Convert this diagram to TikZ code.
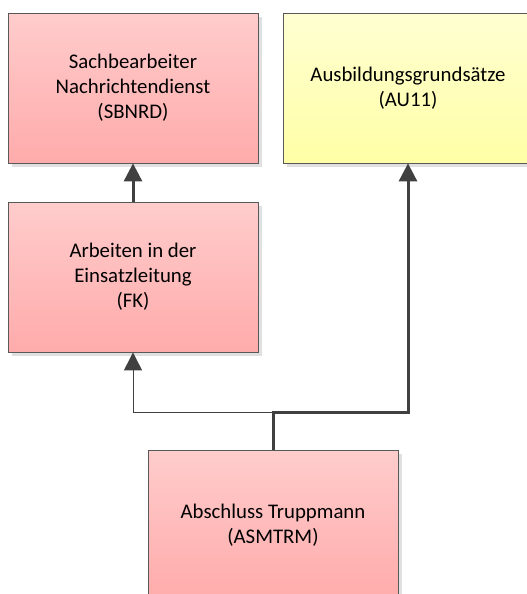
\documentclass[tikz,border=0pt]{standalone}
\usepackage{fontspec}
\setmainfont{Carlito}
\usetikzlibrary{arrows.meta, shadows}

\definecolor{boxline}{HTML}{595959}
\definecolor{linkgray}{HTML}{404040}
\definecolor{redtop}{HTML}{FFCCCC}
\definecolor{redbot}{HTML}{FFABAB}
\definecolor{yeltop}{HTML}{FFFFD2}
\definecolor{yelbot}{HTML}{FFFFA6}

\begin{document}
\begin{tikzpicture}[x=0.75pt, y=-0.75pt,
        task/.style={draw=boxline, line width=0.6pt, minimum width=187.5pt, minimum height=112.5pt,
            align=center, font=\fontsize{15.6}{18.75}\selectfont,
            drop shadow={shadow xshift=3pt, shadow yshift=-3pt, fill=black!12, opacity=1}},
        redtask/.style={task, top color=redtop, bottom color=redbot},
        yellowtask/.style={task, top color=yeltop, bottom color=yelbot},
        link/.style={draw=linkgray, -{Triangle[length=13.5pt, width=13.5pt]}}]
        \useasboundingbox (0, 0) rectangle (527, 594);
        \node[redtask] at (133, 88) (sbnrd) {Sachbearbeiter\\Nachrichtendienst\\(SBNRD)};
        \node[yellowtask] at (408, 88) (au) {Ausbildungsgrundsätze\\(AU11)};
        \node[redtask] at (133, 277) (fk) {Arbeiten in der\\Einsatzleitung\\(FK)};
        \node[redtask] at (273, 525) (asm) {Abschluss Truppmann\\(ASMTRM)};
        \coordinate (split) at (273, 412);
        \draw[link, line width=2.25pt] (fk) -- (sbnrd);
        \draw[link, line width=0.75pt] (asm.north) -- (split) -| (fk.south);
        \draw[link, line width=2.25pt] (asm.north) -- (split) -| (au.south);
    \end{tikzpicture}
\end{document}
